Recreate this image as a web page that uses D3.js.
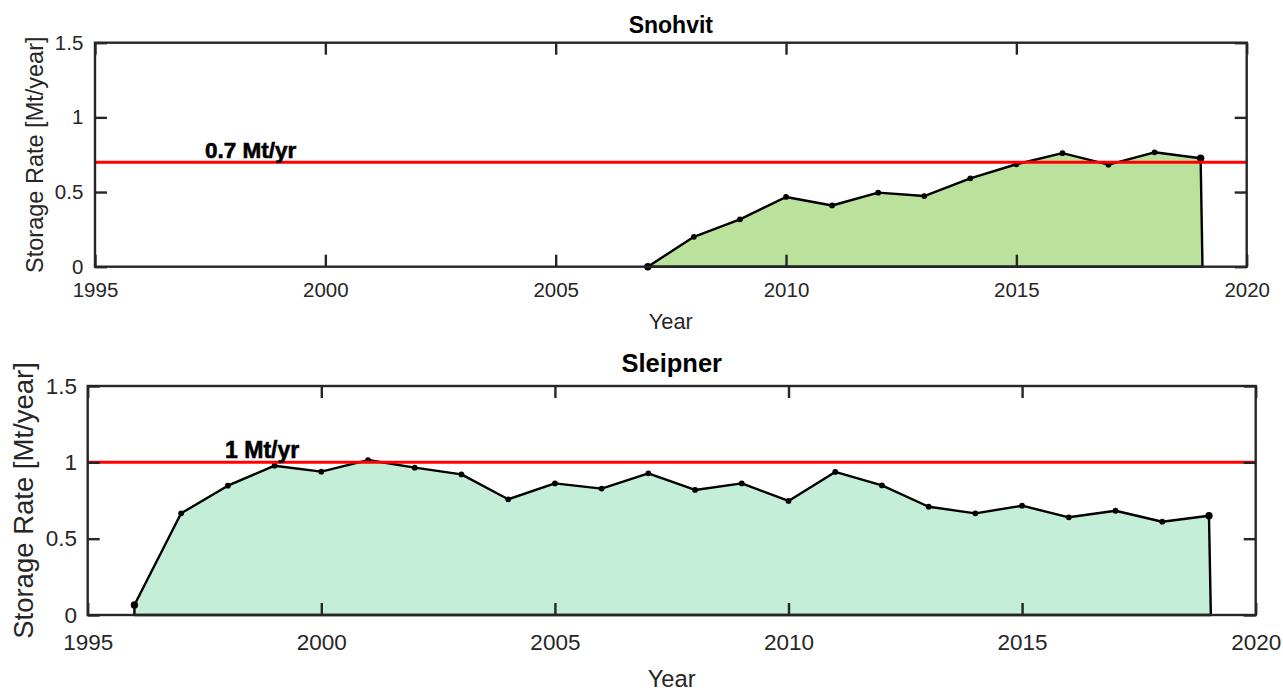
<!DOCTYPE html>
<html>
<head>
<meta charset="utf-8">
<script src="https://cdn.jsdelivr.net/npm/d3@7/dist/d3.min.js"></script>
<style>
  html, body { margin: 0; padding: 0; background: #fff; }
  svg { display: block; font-family: "Liberation Sans", Arial, Helvetica, sans-serif; }
</style>
</head>
<body>
<svg id="chart" width="1283" height="691"></svg>
<script>
// storage rate per year

const snohvitYears = [2007, 2008, 2009, 2010, 2011, 2012, 2013, 2014, 2015, 2016, 2017, 2018, 2019];
const snohvitRates = [0.0, 0.20, 0.317, 0.467, 0.41, 0.496, 0.473, 0.592, 0.686, 0.76, 0.683, 0.766, 0.726];

const sleipnerYears = [1996, 1997, 1998, 1999, 2000, 2001, 2002, 2003, 2004, 2005, 2006, 2007,
  2008, 2009, 2010, 2011, 2012, 2013, 2014, 2015, 2016, 2017, 2018, 2019];
const sleipnerRates = [0.066, 0.666, 0.847, 0.978, 0.939, 1.015, 0.965, 0.921, 0.758, 0.862, 0.828, 0.928,
  0.819, 0.862, 0.747, 0.937, 0.849, 0.709, 0.666, 0.716, 0.64, 0.683, 0.611, 0.65];

const xTicks = [1995, 2000, 2005, 2010, 2015, 2020];
const yTicks = [0, 0.5, 1, 1.5];

const svg = d3.select('#chart');
const axisColor = '#262626';

function drawPanel(p) {
  const x = d3.scaleLinear().domain([1995, 2020]).range([p.left, p.right]);
  const y = d3.scaleLinear().domain([0, 1.5]).range([p.bottom, p.top]);
  const g = svg.append('g');

  const pts = p.years.map((yr, i) => [yr, p.rates[i]]);
  const last = pts[pts.length - 1];
  // closed outline: drop to zero at the first and last year
  const poly = [[pts[0][0], 0], ...pts, [last[0] + 0.04, 0]];

  g.append('path')
    .attr('d', d3.line().x(d => x(d[0])).y(d => y(d[1]))(poly) + 'Z')
    .attr('fill', p.fill)
    .attr('stroke', '#000')
    .attr('stroke-width', 2.4)
    .attr('stroke-linejoin', 'round');

  g.selectAll('circle.pt')
    .data(pts)
    .join('circle')
      .attr('class', 'pt')
      .attr('cx', d => x(d[0]))
      .attr('cy', d => y(d[1]))
      .attr('r', (d, i) => (i === 0 || i === pts.length - 1) ? 3.7 : 2.9)
      .attr('fill', '#000');

  // target line
  g.append('line')
    .attr('x1', x(1995)).attr('x2', x(2020))
    .attr('y1', y(p.target)).attr('y2', y(p.target))
    .attr('stroke', '#ff0000')
    .attr('stroke-width', 3);

  g.append('text')
    .attr('x', x(p.labelYear))
    .attr('y', y(p.target) - 4)
    .attr('font-size', p.labelSize)
    .attr('font-weight', 'bold')
    .attr('fill', '#000')
    .attr('stroke', '#000')
    .attr('stroke-width', 0.6)
    .text(p.label);

  // axes box with inward ticks on all four sides
  const tickLen = 12;
  const box = g.append('g').attr('stroke', axisColor).attr('stroke-width', 2.4).attr('fill', 'none');
  box.append('rect')
    .attr('x', p.left).attr('y', p.top)
    .attr('width', p.right - p.left).attr('height', p.bottom - p.top);

  const axB = d3.axisBottom(x).tickValues(xTicks).tickFormat(d3.format('d')).tickSize(-tickLen).tickPadding(p.xPad);
  const axT = d3.axisTop(x).tickValues(xTicks).tickFormat('').tickSize(-tickLen);
  const axL = d3.axisLeft(y).tickValues(yTicks).tickFormat(d => d).tickSize(-tickLen).tickPadding(p.yPad);
  const axR = d3.axisRight(y).tickValues(yTicks).tickFormat('').tickSize(-tickLen);

  [[axB, `translate(0,${p.bottom})`], [axT, `translate(0,${p.top})`],
   [axL, `translate(${p.left},0)`], [axR, `translate(${p.right},0)`]].forEach(([ax, tr]) => {
    const a = g.append('g').attr('transform', tr).call(ax);
    a.select('.domain').remove();
    a.selectAll('.tick line').attr('stroke', axisColor).attr('stroke-width', 2.4);
    a.selectAll('.tick text')
      .attr('fill', axisColor)
      .attr('font-size', p.tickSize)
      .attr('font-family', '"Liberation Sans", Arial, Helvetica, sans-serif');
  });

  // titles
  g.append('text')
    .attr('x', (p.left + p.right) / 2)
    .attr('y', p.titleY)
    .attr('text-anchor', 'middle')
    .attr('font-size', p.titleSize)
    .attr('font-weight', 'bold')
    .attr('fill', '#000')
    .text(p.title);

  g.append('text')
    .attr('x', (p.left + p.right) / 2)
    .attr('y', p.xLabelY)
    .attr('text-anchor', 'middle')
    .attr('font-size', p.xLabelSize)
    .attr('fill', axisColor)
    .text('Year');

  g.append('text')
    .attr('transform', `translate(${p.yLabelX},${(p.top + p.bottom) / 2}) rotate(-90)`)
    .attr('text-anchor', 'middle')
    .attr('dominant-baseline', 'central')
    .attr('font-size', p.yLabelSize)
    .attr('fill', axisColor)
    .text('Storage Rate [Mt/year]');
}

drawPanel({
  years: snohvitYears, rates: snohvitRates,
  left: 95, right: 1246.7, top: 42.7, bottom: 266.7,
  fill: '#bbe29d', target: 0.7, label: '0.7 Mt/yr', labelYear: 1997.39, labelSize: 22.5,
  title: 'Snohvit', titleY: 33, titleSize: 23,
  xLabelY: 328.5, xLabelSize: 21.8, yLabelX: 35, yLabelSize: 23.5,
  tickSize: 20.5, xPad: 15.4, yPad: 11.7
});

drawPanel({
  years: sleipnerYears, rates: sleipnerRates,
  left: 87.7, right: 1255.7, top: 386, bottom: 615,
  fill: '#c4eed8', target: 1, label: '1 Mt/yr', labelYear: 1997.94, labelSize: 23,
  title: 'Sleipner', titleY: 371.5, titleSize: 25.5,
  xLabelY: 686.5, xLabelSize: 23.7, yLabelX: 23.3, yLabelSize: 27.5,
  tickSize: 22.5, xPad: 19.5, yPad: 10.7
});
</script>
</body>
</html>
